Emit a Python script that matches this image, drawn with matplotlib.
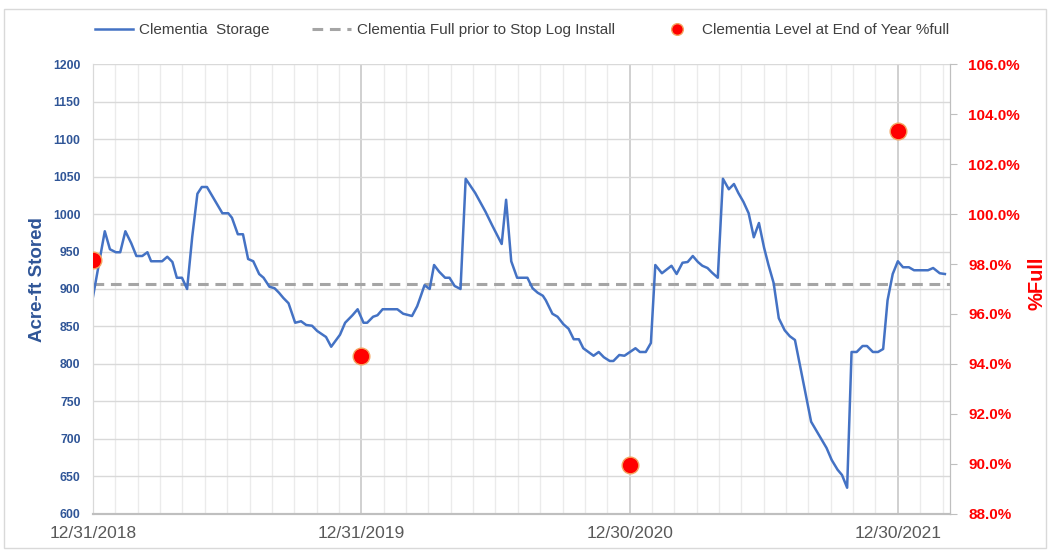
import numpy as np
import pandas as pd
import matplotlib
matplotlib.use("Agg")
import matplotlib.pyplot as plt
import matplotlib.ticker as mticker
from matplotlib.patches import Rectangle

plt.rcParams['font.family'] = ['Liberation Sans', 'DejaVu Sans']

# storage readings: days after 12/31/2018 and acre-ft stored
start = pd.Timestamp('2018-12-31')
days = [0, 16, 23, 31, 37, 44, 52, 59, 67, 74, 79, 94, 101, 108, 114, 121, 128, 135, 142, 148,
        155, 176, 184, 189, 197, 204, 211, 218, 226, 232, 240, 247, 253, 259, 266, 275, 283, 290,
        298, 305, 317, 324, 336, 343, 353, 360, 368, 373, 381, 387, 394, 414, 422, 434, 441, 445,
        451, 458, 464, 471, 479, 485, 492, 500, 507, 520, 534, 543, 556, 562, 569, 577, 591, 598,
        605, 612, 616, 625, 632, 640, 647, 654, 661, 667, 674, 681, 688, 695, 703, 708, 716, 723,
        738, 744, 752, 759, 765, 774, 787, 794, 802, 809, 816, 823, 829, 836, 842, 850, 857, 865,
        872, 878, 885, 892, 899, 906, 913, 919, 926, 933, 941, 948, 955, 977, 986, 998, 1005, 1013,
        1019, 1026, 1032, 1039, 1047, 1053, 1061, 1068, 1075, 1081, 1088, 1095, 1102, 1110, 1117,
        1136, 1143, 1152, 1159]
storage = [890, 977, 953, 949, 949, 977, 961, 944, 944, 949, 937, 937, 943, 936, 915, 915, 900, 970, 1027, 1036,
           1036, 1001, 1001, 995, 973, 973, 940, 937, 920, 915, 903, 901, 895, 888, 881, 855, 857, 852,
           851, 844, 836, 823, 839, 855, 865, 873, 855, 855, 863, 865, 873, 873, 867, 864, 877, 888,
           905, 900, 932, 923, 915, 915, 904, 900, 1047, 1028, 1003, 985, 960, 1019, 937, 915, 915, 901,
           895, 891, 885, 867, 863, 853, 847, 833, 833, 821, 816, 811, 816, 809, 804, 804, 812, 811,
           821, 816, 816, 828, 932, 921, 931, 920, 935, 936, 944, 936, 931, 928, 922, 915, 1047, 1033,
           1040, 1028, 1016, 1001, 969, 988, 955, 932, 908, 861, 845, 837, 832, 723, 708, 688, 672, 659,
           652, 635, 816, 816, 824, 824, 816, 816, 820, 885, 920, 937, 929, 929, 925,
           925, 928, 921, 920]
full_level = 907

# end of year %full
eoy_dates = ['2018-12-31', '2019-12-31', '2020-12-30', '2021-12-30']
eoy_pct = [0.9816, 0.9432, 0.8996, 1.0332]

year_ticks = ['2018-12-31', '2019-12-31', '2020-12-30', '2021-12-30']
year_labels = ['12/31/2018', '12/31/2019', '12/30/2020', '12/30/2021']

dates = start + pd.to_timedelta(days, unit='D')
x_end = start + pd.Timedelta(days=1166)

blue = '#4472C4'
axis_blue = '#2F5597'
red = '#FF0000'

fig = plt.figure(figsize=(10.5, 5.5), dpi=100)
ax = fig.add_axes([0.0886, 0.0655, 0.8162, 0.8181])
ax2 = ax.twinx()

ax.plot(dates, storage, color=blue, lw=1.8, zorder=3, label='Clementia  Storage')
ax.axhline(full_level, color='#A5A5A5', lw=2.2, ls=(0, (3.5, 2.2)), zorder=2,
           label='Clementia Full prior to Stop Log Install')
ax2.plot(pd.to_datetime(eoy_dates), eoy_pct, ls='none', marker='o', ms=12,
         mfc=red, mec='#F4A460', mew=1.0, zorder=4, label='Clementia Level at End of Year %full')

ax.set_xlim(start, x_end)
ax.set_ylim(600, 1200)
ax.set_yticks(np.arange(600, 1201, 50))
ax2.set_ylim(0.88, 1.06)
ax2.set_yticks(np.arange(0.88, 1.0601, 0.02))
ax2.yaxis.set_major_formatter(mticker.PercentFormatter(1.0, decimals=1))

ax.set_xticks(pd.to_datetime(year_ticks))
ax.set_xticklabels(year_labels)
minor = start + pd.to_timedelta(np.arange(365 / 12, 1166, 365 / 12), unit='D')
ax.set_xticks(minor, minor=True)

ax.grid(axis='y', color='#D9D9D9', lw=1.0)
ax.grid(axis='x', which='minor', color='#EBEBEB', lw=1.0)
ax.grid(axis='x', which='major', color='#D0D0D0', lw=1.4)
ax.set_axisbelow(True)

for a in (ax, ax2):
    a.spines['top'].set_visible(False)
    a.spines['left'].set_color('#D9D9D9')
    a.spines['bottom'].set_color('#BFBFBF')
    a.spines['bottom'].set_linewidth(1.5)
    a.spines['right'].set_color('#BFBFBF')

ax.tick_params(axis='x', which='both', length=0, pad=9, labelsize=12.5, labelcolor='#595959')
ax.tick_params(axis='y', length=0, pad=9, labelsize=8.8, labelcolor=axis_blue)
for t in ax.get_yticklabels():
    t.set_fontweight('bold')
ax2.tick_params(axis='y', length=5, color='#BFBFBF', pad=8, labelsize=11, labelcolor=red)
for t in ax2.get_yticklabels():
    t.set_fontweight('bold')

ax.set_ylabel('Acre-ft Stored', fontsize=13.5, fontweight='bold', color=axis_blue)
ax.yaxis.set_label_coords(-0.055, 0.52)
fig.text(0.988, 0.485, '%Full', rotation=90, ha='center', va='center',
         fontsize=14.5, fontweight='bold', color=red)

h1, l1 = ax.get_legend_handles_labels()
h2, l2 = ax2.get_legend_handles_labels()
leg = fig.legend(h1 + h2, l1 + l2, loc='center', bbox_to_anchor=(0.497, 0.945), ncol=3,
                 frameon=False, fontsize=11, handlelength=2.5, columnspacing=2.8,
                 handletextpad=0.4, markerscale=0.7)
for t in leg.get_texts():
    t.set_color('#404040')

fig.patches.append(Rectangle((0.004, 0.004), 0.992, 0.98, transform=fig.transFigure,
                             fill=False, edgecolor='#D9D9D9', lw=1.0))

fig.savefig('out.png', dpi=100)
